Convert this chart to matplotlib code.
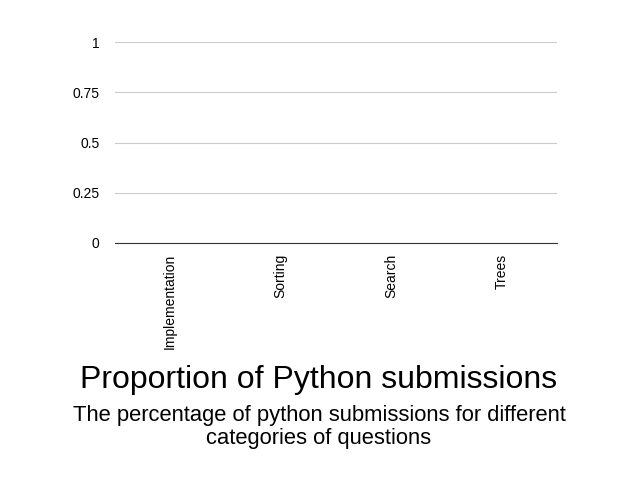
import matplotlib
matplotlib.use("Agg")
import matplotlib.pyplot as plt

categories = ["Implementation", "Sorting", "Search", "Trees"]
values = [0, 0, 0, 0]
yticks = [0, 0.25, 0.5, 0.75, 1]
ytick_labels = ["0", "0.25", "0.5", "0.75", "1"]

plt.rcParams["font.family"] = "Liberation Sans"
fig = plt.figure(figsize=(6.38, 4.79), dpi=100)
ax = fig.add_axes([0.180, 0.4927, 0.693, 0.4196])
x = range(len(categories))
ax.bar(x, values, width=0.6, color="#4285f4")
ax.set_xlim(-0.5, len(categories) - 0.5)
ax.set_ylim(0, 1)
ax.set_yticks(yticks)
ax.set_yticklabels(ytick_labels, fontsize=10)
ax.set_xticks(list(x))
ax.set_xticklabels(categories, rotation=90, fontsize=10)
ax.grid(axis="y", color="#cccccc", linewidth=0.8)
ax.set_axisbelow(True)
for s in ["top", "right", "left"]:
    ax.spines[s].set_visible(False)
ax.spines["bottom"].set_color("#333333")
ax.tick_params(length=0)
ax.tick_params(axis="y", pad=11)
ax.tick_params(axis="x", pad=8)

fig.text(0.5, 1 - 380 / 479, "Proportion of Python submissions", ha="center", va="center", fontsize=23)
fig.text(0.5, 1 - 427 / 479, "The percentage of python submissions for different\ncategories of questions",
         ha="center", va="center", fontsize=15.8, linespacing=1.15)
fig.savefig("out.png", dpi=100)
